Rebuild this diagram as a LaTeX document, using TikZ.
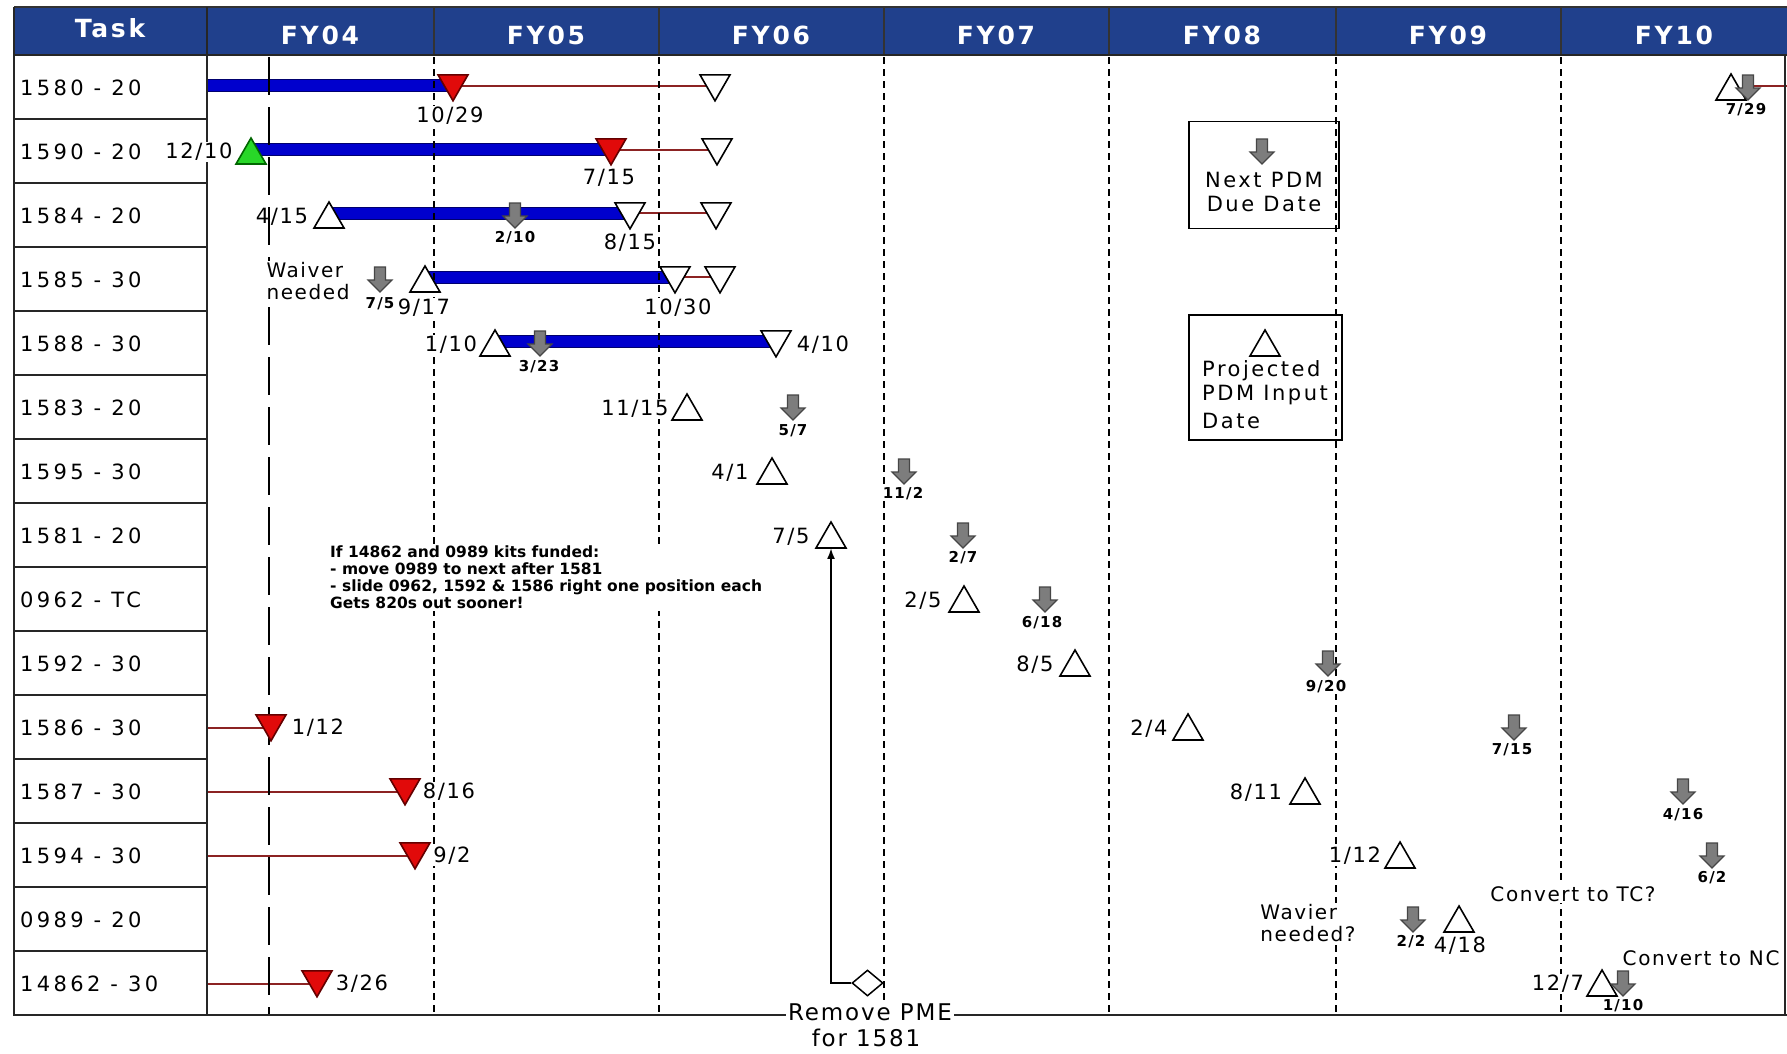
\documentclass[tikz,border=0pt]{standalone}
\usepackage{fontspec}
\setmainfont{DejaVu Sans}
\newfontfamily\lsfont{DejaVu Sans}[LetterSpace=12]
\newfontfamily\lsrow{DejaVu Sans}[LetterSpace=16]
\newfontfamily\lsdate{DejaVu Sans}[LetterSpace=8]
\newfontfamily\lshdr{DejaVu Sans}[LetterSpace=11]
\newfontfamily\lstiny{DejaVu Sans}[LetterSpace=8]
\usetikzlibrary{shapes.geometric,arrows.meta}
\pgfdeclarelayer{bg}
\pgfdeclarelayer{lines}
\pgfsetlayers{bg,lines,main}
\definecolor{hdr}{RGB}{32,64,140}
\definecolor{barblue}{RGB}{0,0,205}
\definecolor{barline}{RGB}{0,0,110}
\definecolor{tred}{RGB}{225,10,10}
\definecolor{tredline}{RGB}{100,0,0}
\definecolor{rline}{RGB}{140,35,35}
\definecolor{pgray}{RGB}{125,125,125}
\definecolor{pgrayline}{RGB}{70,70,70}
\definecolor{tgreen}{RGB}{40,215,40}
\tikzset{
 wtri/.style={regular polygon, regular polygon sides=3, minimum size=34.6pt, inner sep=0pt, outer sep=0pt, draw=black, line width=1.6pt, fill=white},
 utri/.style={wtri},
 dtri/.style={wtri, shape border rotate=180},
 redtri/.style={dtri, fill=tred, draw=tredline},
 greentri/.style={wtri, fill=tgreen, draw=black!60!green},
 pdmstyle/.style={fill=pgray, draw=pgrayline, line width=1.2pt, line join=miter},
 bluebar/.style={fill=barblue, draw=barline, line width=1pt},
 redln/.style={draw=rline, line width=1.6pt},
 fyline/.style={line width=2.2pt, dash pattern=on 7pt off 5pt},
 todayline/.style={line width=2.2pt, dash pattern=on 38pt off 12pt},
 tabline/.style={line width=2.2pt, black!85},
 hdrtxt/.style={text=white, font=\lshdr\bfseries\fontsize{25}{27}\selectfont, inner sep=0pt},
 rowtxt/.style={anchor=west, font=\lsrow\fontsize{21}{23}\selectfont, inner sep=0pt},
 datetxt/.style={font=\lsdate\fontsize{21}{23}\selectfont, inner sep=1.5pt, fill=white},
 tinylab/.style={font=\lstiny\bfseries\fontsize{15}{16}\selectfont, inner sep=1pt, fill=white},
 midtxt/.style={font=\lsdate\fontsize{20}{22}\selectfont, inner sep=1.5pt, fill=white, align=left},
 legtxt/.style={font=\lsfont\fontsize{21}{24}\selectfont, inner sep=0pt},
 notetxt/.style={font=\bfseries\fontsize{15.5}{17}\selectfont, inner sep=2pt, fill=white, align=left},
 pmetxt/.style={font=\lsdate\fontsize{23}{25}\selectfont, inner sep=2pt, fill=white},
 legbox/.style={draw, line width=1.6pt, inner sep=0pt},
}
\newcommand\pdm[3]{%
  \coordinate (#1) at (#2,#3);
  \draw[pdmstyle] (#2-5.5,#3-12) -- (#2+5.5,#3-12) -- (#2+5.5,#3+1) -- (#2+12,#3+1)
    -- (#2,#3+13) -- (#2-12,#3+1) -- (#2-5.5,#3+1) -- cycle;}
\begin{document}
\begin{tikzpicture}[x=1pt,y=-1pt]
\useasboundingbox (0,0) rectangle (1787,1053);
\clip (0,0) rectangle (1787,1053);
\begin{pgfonlayer}{bg}
\fill[white] (0,0) rectangle (1787,1053);
\end{pgfonlayer}

% header
\fill[hdr] (14,7) rectangle (1787,55);
\foreach \x in {207,434,659,884,1109,1336,1561}{\draw[line width=2pt,black!80] (\x,7) -- (\x,55);}
\draw[line width=2pt,black!80] (14,7) -- (1787,7);
\draw[line width=2.5pt,black!85] (14,55) -- (1787,55);
\node[hdrtxt] (hT) at (110,28) {Task};
\node[hdrtxt] (h04) at (320,35) {FY04};
\node[hdrtxt] (h05) at (546,35) {FY05};
\node[hdrtxt] (h06) at (771,35) {FY06};
\node[hdrtxt] (h07) at (996,35) {FY07};
\node[hdrtxt] (h08) at (1222,35) {FY08};
\node[hdrtxt] (h09) at (1448,35) {FY09};
\node[hdrtxt] (h10) at (1674,35) {FY10};

% table frame
\draw[tabline] (14,7) -- (14,1015) -- (1787,1015);
\draw[tabline] (207,7) -- (207,1015);
\draw[tabline] (1785,55) -- (1785,1015);
\foreach \k in {1,...,14}{\draw[tabline] (14,55+64*\k) -- (207,55+64*\k);}

% task labels
\node[rowtxt] (t1) at (20,88) {1580 - 20};
\node[rowtxt] (t2) at (20,152) {1590 - 20};
\node[rowtxt] (t3) at (20,216) {1584 - 20};
\node[rowtxt] (t4) at (20,280) {1585 - 30};
\node[rowtxt] (t5) at (20,344) {1588 - 30};
\node[rowtxt] (t6) at (20,408) {1583 - 20};
\node[rowtxt] (t7) at (20,472) {1595 - 30};
\node[rowtxt] (t8) at (20,536) {1581 - 20};
\node[rowtxt] (t9) at (20,600) {0962 - TC};
\node[rowtxt] (t10) at (20,664) {1592 - 30};
\node[rowtxt] (t11) at (20,728) {1586 - 30};
\node[rowtxt] (t12) at (20,792) {1587 - 30};
\node[rowtxt] (t13) at (20,856) {1594 - 30};
\node[rowtxt] (t14) at (20,920) {0989 - 20};
\node[rowtxt] (t15) at (20,984) {14862 - 30};

% Row 1
\node[redtri] (r1a) at (453,83.5) {};
\node[dtri] (r1b) at (715,83.5) {};
\node[utri] (r1c) at (1731,91.3) {};
\pdm{a1}{1748}{87}
\coordinate (e1) at (1787,86);
\node[datetxt] (d1a) at (450,116) {10/29};
\node[tinylab] (d1b) at (1746,110) {7/29};
% Row 2
\node[greentri] (r2a) at (251,155.3) {};
\node[redtri] (r2b) at (611,147.5) {};
\node[dtri] (r2c) at (717,147.5) {};
\node[datetxt] (d2a) at (199,152) {12/10};
\node[datetxt] (d2b) at (609,178) {7/15};
% Row 3
\node[utri] (r3a) at (329,219.3) {};
\pdm{a3}{515}{215}
\node[dtri] (r3b) at (630,211.5) {};
\node[dtri] (r3c) at (716,211.5) {};
\node[datetxt, fill=none] (d3a) at (282,217) {4/15};
\node[tinylab] (d3b) at (515,238) {2/10};
\node[datetxt] (d3c) at (630,243) {8/15};
% Row 4
\node[midtxt] (w4) at (308,281) {Waiver\\needed};
\pdm{a4}{380}{279}
\node[tinylab] (d4a) at (380,304) {7/5};
\node[utri] (r4a) at (425,283.3) {};
\node[datetxt] (d4b) at (424,308) {9/17};
\node[dtri] (r4b) at (675,275.5) {};
\node[dtri] (r4c) at (720,275.5) {};
\node[datetxt] (d4c) at (678,308) {10/30};
% Row 5
\node[datetxt] (d5a) at (451,345) {1/10};
\node[utri] (r5a) at (495,347.3) {};
\pdm{a5}{540}{343}
\node[tinylab] (d5b) at (539,367) {3/23};
\node[dtri] (r5b) at (776,339.5) {};
\node[datetxt] (d5c) at (823,345) {4/10};
% Row 6
\node[datetxt] (d6a) at (635,409) {11/15};
\node[utri] (r6a) at (687,411.3) {};
\pdm{a6}{793}{407}
\node[tinylab] (d6b) at (793,431) {5/7};
% Row 7
\node[datetxt] (d7a) at (730,473) {4/1};
\node[utri] (r7a) at (772,475.3) {};
\pdm{a7}{904}{471}
\node[tinylab] (d7b) at (903,494) {11/2};
% Row 8
\node[datetxt] (d8a) at (791,537) {7/5};
\node[utri] (r8a) at (831,539.3) {};
\pdm{a8}{963}{535}
\node[tinylab] (d8b) at (963,558) {2/7};
% Row 9
\node[datetxt] (d9a) at (923,601) {2/5};
\node[utri] (r9a) at (964,603.3) {};
\pdm{a9}{1045}{599}
\node[tinylab] (d9b) at (1042,623) {6/18};
% Row 10
\node[datetxt] (d10a) at (1035,665) {8/5};
\node[utri] (r10a) at (1075,667.3) {};
\pdm{a10}{1328}{663}
\node[tinylab] (d10b) at (1326,687) {9/20};
% Row 11
\coordinate (s11) at (207,728);
\node[redtri] (r11a) at (271,723.5) {};
\node[datetxt] (d11a) at (318,728) {1/12};
\node[datetxt] (d11b) at (1149,729) {2/4};
\node[utri] (r11b) at (1188,731.3) {};
\pdm{a11}{1514}{727}
\node[tinylab] (d11c) at (1512,750) {7/15};
% Row 12
\coordinate (s12) at (207,792);
\node[redtri] (r12a) at (405,787.5) {};
\node[datetxt] (d12a) at (449,792) {8/16};
\node[datetxt] (d12b) at (1256,793) {8/11};
\node[utri] (r12b) at (1305,795.3) {};
\pdm{a12}{1683}{791}
\node[tinylab] (d12c) at (1683,815) {4/16};
% Row 13
\coordinate (s13) at (207,856);
\node[redtri] (r13a) at (415,851.5) {};
\node[datetxt] (d13a) at (452,856) {9/2};
\node[datetxt] (d13b) at (1355,856) {1/12};
\node[utri] (r13b) at (1400,859.3) {};
\pdm{a13}{1712}{855}
\node[tinylab] (d13c) at (1712,878) {6/2};
% Row 14
\node[midtxt] (ctc) at (1573,894) {Convert to TC?};
\node[midtxt] (wn) at (1308,923) {Wavier\\needed?};
\pdm{a14}{1413}{919}
\node[tinylab] (d14a) at (1411,942) {2/2};
\node[utri] (r14a) at (1459,923.3) {};
\node[datetxt] (d14b) at (1460,946) {4/18};
% Row 15
\coordinate (s15) at (207,984);
\node[redtri] (r15a) at (317,979.5) {};
\node[datetxt] (d15a) at (362,984) {3/26};
\node[midtxt, anchor=west] (cnc) at (1621,958) {Convert to NC};
\node[datetxt] (d15b) at (1558,984) {12/7};
\node[utri] (r15b) at (1602,987.3) {};
\pdm{a15}{1623}{983}
\node[tinylab] (d15c) at (1623,1006) {1/10};

% PME removal
\node[diamond, draw, line width=1.5pt, fill=white, minimum width=31pt, minimum height=26pt, inner sep=0pt] (dia) at (867.5,983) {};
\draw[line width=2pt, -{Latex[length=11pt,width=8pt]}] (dia.west) -| (r8a.south);
\node[pmetxt] (pme1) at (870,1012) {Remove PME};
\node[pmetxt, fill=none] (pme2) at (866,1038) {for 1581};

% note
\node[notetxt, anchor=north west] (note) at (328,544) {If 14862 and 0989 kits funded:\\- move 0989 to next after 1581\\- slide 0962, 1592 \& 1586 right one position each\\Gets 820s out sooner!};

% legend
\node[legbox, minimum width=150pt, minimum height=107pt] (leg1) at (1264,175) {};
\pdm{legA}{1262}{151}
\node[legtxt] (lg1) at (1264,180) {Next PDM};
\node[legtxt] (lg2) at (1264,204) {Due Date};
\node[legbox, minimum width=153pt, minimum height=125pt] (leg2) at (1265.5,377.5) {};
\node[utri] (legB) at (1265,347.3) {};
\node[legtxt, anchor=west] (lg3) at (1202,371) {Projected};
\node[legtxt, anchor=west] (lg4) at (1202,395) {PDM Input};
\node[legtxt, anchor=west] (lg5) at (1202,421) {Date};

% bars, red lines and grid (under the markers)
\begin{pgfonlayer}{lines}
\draw[bluebar] (207,79) rectangle (r1a.center |- 0,91);
\draw[bluebar] (r2a.center |- 0,143) rectangle (r2b.center |- 0,155);
\draw[bluebar] (r3a.center |- 0,207) rectangle (r3b.center |- 0,219);
\draw[bluebar] (r4a.center |- 0,271) rectangle (r4b.center |- 0,283);
\draw[bluebar] (r5a.center |- 0,335) rectangle (r5b.center |- 0,347);
\draw[redln] ([yshift=-2.5pt]r1a.center) -- ([yshift=-2.5pt]r1b.center);
\draw[redln] ([yshift=-2.5pt]r2b.center) -- ([yshift=-2.5pt]r2c.center);
\draw[redln] ([yshift=-1.5pt]r3b.center) -- ([yshift=-1.5pt]r3c.center);
\draw[redln] ([yshift=-1.5pt]r4b.center) -- ([yshift=-1.5pt]r4c.center);
\draw[redln] (a1 |- e1) -- (e1);
\draw[redln] (s11) -- (r11a.center |- s11);
\draw[redln] (s12) -- (r12a.center |- s12);
\draw[redln] (s13) -- (r13a.center |- s13);
\draw[redln] (s15) -- (r15a.center |- s15);
\foreach \x in {434,659,884,1109,1336,1561}{\draw[fyline] (\x,57) -- (\x,1014);}
\draw[todayline] (269,57) -- (269,1014);
\end{pgfonlayer}
\end{tikzpicture}
\end{document}
